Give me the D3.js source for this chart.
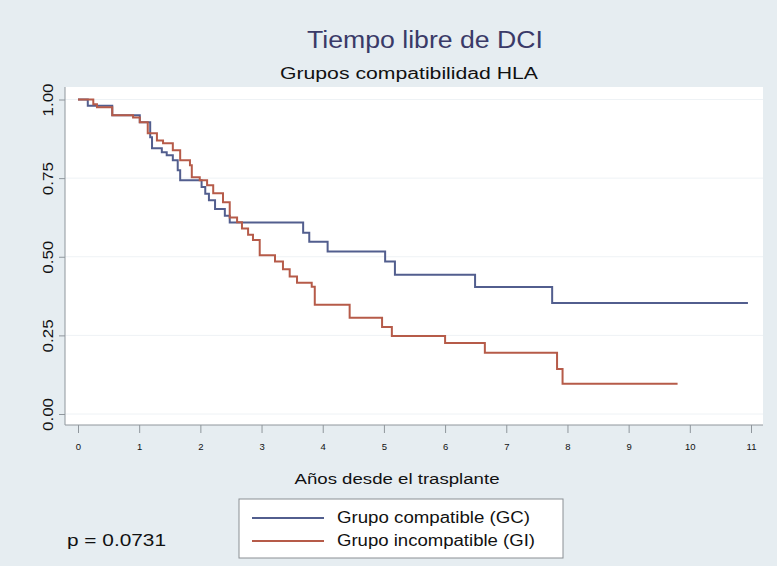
<!DOCTYPE html>
<html>
<head>
  <script src="https://d3js.org/d3.v7.min.js"></script>
  <style>
    body { margin: 0; background: #e6edf1; }
    svg text { font-family: "Liberation Sans", Arial, sans-serif; }
  </style>
</head>
<body>
  <svg id="chart" width="777" height="566"></svg>
  <script>
    // Kaplan-Meier steps (years, survival after the drop)
    var gcTimes = [0, 0.16, 0.56, 1.01, 1.18, 1.21, 1.37, 1.45, 1.55, 1.63, 1.67, 2.02, 2.08, 2.14, 2.24, 2.40, 2.48, 3.68, 3.78, 4.08, 5.02, 5.18, 6.49, 7.75, 10.95];
    var gcSurv = [1.00, 0.98, 0.95, 0.928, 0.88, 0.845, 0.832, 0.823, 0.807, 0.775, 0.743, 0.722, 0.70, 0.68, 0.652, 0.63, 0.609, 0.576, 0.548, 0.517, 0.485, 0.443, 0.404, 0.353, 0.353];

    var giTimes = [0, 0.25, 0.31, 0.56, 0.90, 1.01, 1.14, 1.29, 1.39, 1.55, 1.67, 1.83, 1.86, 1.99, 2.11, 2.21, 2.37, 2.48, 2.60, 2.68, 2.78, 2.86, 2.97, 3.22, 3.35, 3.46, 3.58, 3.82, 3.87, 4.44, 4.97, 5.13, 6.00, 6.65, 7.83, 7.92, 9.80];
    var giSurv = [1.00, 0.985, 0.975, 0.95, 0.943, 0.928, 0.893, 0.870, 0.861, 0.839, 0.807, 0.791, 0.753, 0.743, 0.727, 0.702, 0.673, 0.625, 0.61, 0.59, 0.57, 0.553, 0.505, 0.485, 0.46, 0.437, 0.417, 0.405, 0.347, 0.306, 0.277, 0.248, 0.226, 0.195, 0.143, 0.096, 0.096];

    var xTicks = [0, 1, 2, 3, 4, 5, 6, 7, 8, 9, 10, 11];
    var yTicks = [0, 0.25, 0.5, 0.75, 1];
    var seriesNames = ['Grupo compatible (GC)', 'Grupo incompatible (GI)'];
    var seriesColors = ['#525e8e', '#b65b49'];

    var svg = d3.select('#chart');

    var x = d3.scaleLinear().domain([0, 11]).range([78, 751]);
    var y = d3.scaleLinear().domain([0, 1]).range([414, 99.5]);

    // plot region
    svg.append('rect')
      .attr('x', 65).attr('y', 87)
      .attr('width', 698).attr('height', 338)
      .attr('fill', '#ffffff');

    // faint grid
    svg.selectAll('.grid')
      .data(yTicks)
      .enter().append('line')
      .attr('x1', 65).attr('x2', 763)
      .attr('y1', function (d) { return y(d); })
      .attr('y2', function (d) { return y(d); })
      .attr('stroke', '#eef2f5');

    // axes
    var yAxis = svg.append('g')
      .attr('transform', 'translate(65,0)')
      .call(d3.axisLeft(y).tickValues(yTicks).tickSize(6).tickFormat(d3.format('.2f')));
    yAxis.select('.domain').attr('d', 'M0,87V425');
    yAxis.selectAll('line, path').attr('stroke', '#8f969c');
    // labels sit inside each tick group, so only the rotation is needed
    yAxis.selectAll('text')
      .attr('transform', 'rotate(-90)')
      .attr('x', 0)
      .attr('y', -12)
      .attr('dy', 0)
      .attr('text-anchor', 'middle')
      .attr('textLength', 33).attr('lengthAdjust', 'spacingAndGlyphs')
      .style('font-size', '15px')
      .attr('fill', '#111');

    var xAxis = svg.append('g')
      .attr('transform', 'translate(0,425)')
      .call(d3.axisBottom(x).tickValues(xTicks).tickSize(8).tickFormat(d3.format('d')));
    xAxis.select('.domain').attr('d', 'M65,0H763');
    xAxis.selectAll('line, path').attr('stroke', '#8f969c');
    xAxis.selectAll('text')
      .attr('y', 25)
      .attr('dy', 0)
      .style('font-size', '9.5px')
      .attr('fill', '#111');

    // survival curves
    var line = d3.line()
      .x(function (d) { return x(d[0]); })
      .y(function (d) { return y(d[1]); })
      .curve(d3.curveStepAfter);

    var series = [d3.zip(gcTimes, gcSurv), d3.zip(giTimes, giSurv)];
    svg.selectAll('.km')
      .data(series)
      .enter().append('path')
      .attr('d', line)
      .attr('fill', 'none')
      .attr('stroke', function (d, i) { return seriesColors[i]; })
      .attr('stroke-width', 2);

    // titles
    svg.append('text')
      .attr('x', 425).attr('y', 48)
      .attr('text-anchor', 'middle')
      .attr('textLength', 236).attr('lengthAdjust', 'spacingAndGlyphs')
      .style('font-size', '23px')
      .attr('fill', '#3a3a68')
      .text('Tiempo libre de DCI');

    svg.append('text')
      .attr('x', 409).attr('y', 79)
      .attr('text-anchor', 'middle')
      .attr('textLength', 258).attr('lengthAdjust', 'spacingAndGlyphs')
      .style('font-size', '16px')
      .attr('fill', '#111')
      .text('Grupos  compatibilidad  HLA');

    svg.append('text')
      .attr('x', 397).attr('y', 484)
      .attr('text-anchor', 'middle')
      .attr('textLength', 205).attr('lengthAdjust', 'spacingAndGlyphs')
      .style('font-size', '14px')
      .attr('fill', '#111')
      .text('Años desde el trasplante');

    // legend
    var legend = svg.append('g');
    legend.append('rect')
      .attr('x', 239).attr('y', 499)
      .attr('width', 324).attr('height', 59)
      .attr('fill', '#ffffff')
      .attr('stroke', '#8a8f94');

    var item = legend.selectAll('.item')
      .data(seriesNames)
      .enter().append('g')
      .attr('transform', function (d, i) { return 'translate(0,' + (518 + i * 23) + ')'; });
    item.append('line')
      .attr('x1', 252).attr('x2', 324)
      .attr('stroke', function (d, i) { return seriesColors[i]; })
      .attr('stroke-width', 2);
    item.append('text')
      .attr('x', 337).attr('y', 5)
      .attr('textLength', function (d, i) { return i ? 198 : 193; })
      .attr('lengthAdjust', 'spacingAndGlyphs')
      .style('font-size', '16px')
      .attr('fill', '#111')
      .text(function (d) { return d; });

    svg.append('text')
      .attr('x', 67).attr('y', 546)
      .attr('textLength', 99).attr('lengthAdjust', 'spacingAndGlyphs')
      .style('font-size', '17px')
      .attr('fill', '#111')
      .text('p = 0.0731');
  </script>
</body>
</html>
